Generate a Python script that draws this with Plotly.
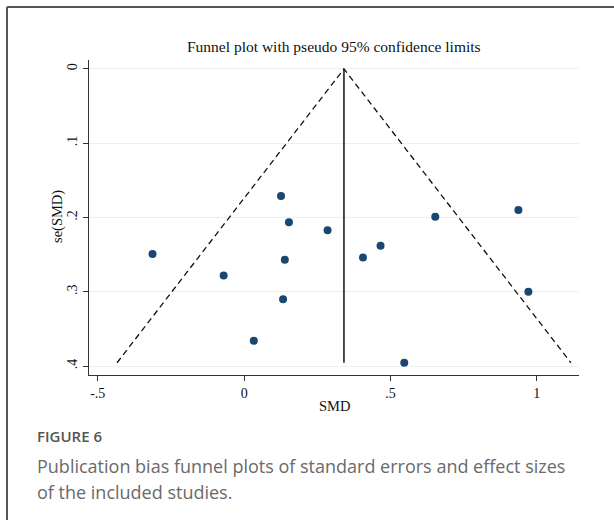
import plotly.graph_objects as go

# Study effect sizes (SMD) and their standard errors
smd = [0.126, 0.153, 0.285, -0.313, 0.139, -0.070, 0.133, 0.033, 0.406, 0.466,
       0.653, 0.937, 0.971, 0.547]
se = [0.171, 0.2065, 0.217, 0.249, 0.257, 0.278, 0.310, 0.366, 0.254, 0.238,
      0.199, 0.190, 0.300, 0.3955]

pooled = 0.341
se_max = max(se)
z = 1.96

x_ticks = [-0.5, 0, 0.5, 1]
x_tick_text = ["-.5", "0", ".5", "1"]
y_ticks = [0, 0.1, 0.2, 0.3, 0.4]
y_tick_text = ["0", ".1", ".2", ".3", ".4"]

title_text = "Funnel plot with pseudo 95% confidence limits"
caption_label = "FIGURE 6"
caption_lines = ["Publication bias funnel plots of standard errors and effect sizes",
                 "of the included studies."]

serif = "Liberation Serif, Times New Roman, serif"
sans = "Open Sans, Lato, sans-serif"
navy = "#1a476f"

fig = go.Figure()

# pseudo 95% confidence limits
fig.add_trace(go.Scatter(
    x=[pooled - z * se_max, pooled, pooled + z * se_max],
    y=[se_max, 0, se_max],
    mode="lines", line=dict(color="#111111", width=1.3, dash="6px,4px"),
    hoverinfo="skip", showlegend=False))
# pooled estimate line
fig.add_trace(go.Scatter(
    x=[pooled, pooled], y=[0, se_max],
    mode="lines", line=dict(color="#111111", width=1.5),
    hoverinfo="skip", showlegend=False))
# studies
fig.add_trace(go.Scatter(
    x=smd, y=se, mode="markers",
    marker=dict(color=navy, size=8, line=dict(width=0)),
    showlegend=False))

# pixel helpers
L, R, T, B = 89, 579, 60, 375
W, H = 614, 520
def px(x):
    return (x - L) / (R - L)
def py(y):
    return (B - y) / (B - T)

annotations = [
    dict(text=title_text, x=px(334), y=py(47), xref="paper", yref="paper",
         showarrow=False, xanchor="center", yanchor="middle",
         font=dict(family=serif, size=15.5, color="#111111")),
    dict(text="se(SMD)", x=px(57), y=py(217), xref="paper", yref="paper",
         showarrow=False, textangle=-90, xanchor="center", yanchor="middle",
         font=dict(family=serif, size=14.5, color="#111111")),
    dict(text="SMD", x=px(334), y=py(406), xref="paper", yref="paper",
         showarrow=False, xanchor="center", yanchor="middle",
         font=dict(family=serif, size=14.5, color="#111111")),
    dict(text=caption_label, x=px(35), y=py(436), xref="paper", yref="paper",
         showarrow=False, xanchor="left", yanchor="middle",
         font=dict(family=sans, size=15, color="#555555", weight=600)),
    dict(text=caption_lines[0], x=px(35), y=py(466), xref="paper", yref="paper",
         showarrow=False, xanchor="left", yanchor="middle",
         font=dict(family=sans, size=18, color="#6a6a6a")),
    dict(text=caption_lines[1], x=px(35), y=py(492), xref="paper", yref="paper",
         showarrow=False, xanchor="left", yanchor="middle",
         font=dict(family=sans, size=18, color="#6a6a6a")),
]

shapes = [
    dict(type="line", xref="paper", yref="paper", x0=px(7), x1=px(620),
         y0=py(7), y1=py(7), line=dict(color="#555555", width=2)),
    dict(type="line", xref="paper", yref="paper", x0=px(7), x1=px(7),
         y0=py(7), y1=py(530), line=dict(color="#555555", width=2)),
]

fig.update_layout(
    width=W, height=H,
    margin=dict(l=L, r=W - R, t=T, b=H - B),
    paper_bgcolor="white", plot_bgcolor="white",
    annotations=annotations, shapes=shapes,
    xaxis=dict(range=[-0.530, 1.144], tickvals=x_ticks, ticktext=x_tick_text,
               showgrid=False, zeroline=False, showline=True, linecolor="#333333",
               linewidth=1.3, ticks="outside", ticklen=5, tickcolor="#333333",
               tickfont=dict(family=serif, size=14, color="#111111")),
    yaxis=dict(range=[0.412, -0.012], tickvals=y_ticks, ticktext=y_tick_text,
               showgrid=True, gridcolor="#e8f0f3", gridwidth=1.2, zeroline=False,
               showline=True, linecolor="#333333", linewidth=1.3,
               ticks="outside", ticklen=5, tickcolor="#333333", tickangle=-90,
               tickfont=dict(family=serif, size=14, color="#111111")),
)

fig.write_html("out.html")
